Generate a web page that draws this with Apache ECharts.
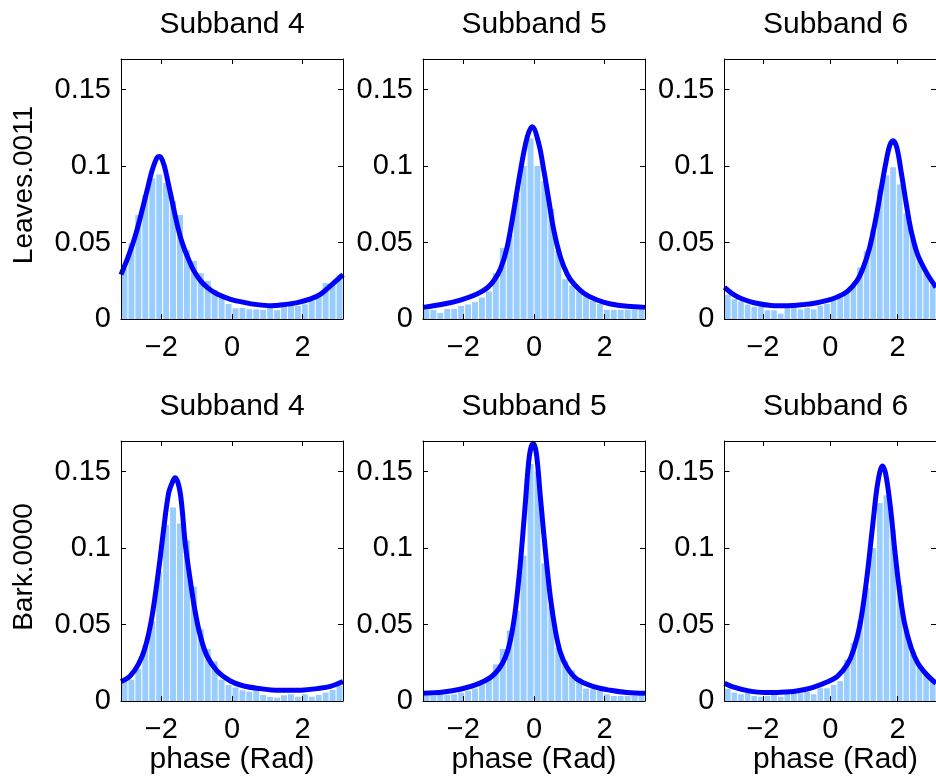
<!DOCTYPE html>
<html>
<head>
<meta charset="utf-8">
<script src="https://cdn.jsdelivr.net/npm/echarts@6/dist/echarts.min.js"></script>
<style>
  html, body { margin: 0; padding: 0; background: #ffffff; }
  #chart { width: 936px; height: 780px; }
</style>
</head>
<body>
<div id="chart"></div>
<script>
// Phase histograms (32 bins over [-pi, pi]) with fitted density curves.
const subbandTitles = ['Subband 4', 'Subband 5', 'Subband 6'];
const textureNames = ['Leaves.0011', 'Bark.0000'];
const xAxisName = 'phase (Rad)';
const xTickValues = [-2, 0, 2];
const yTickValues = [0, 0.05, 0.1, 0.15];
const yMax = 0.17;

// Histogram bin heights, left to right
const leaves4Bars = [0.033, 0.0495, 0.068, 0.081, 0.092, 0.0944, 0.089, 0.077, 0.068, 0.045, 0.038, 0.030,
  0.025, 0.019, 0.014, 0.0098, 0.0070, 0.0072, 0.0063, 0.0063, 0.0059, 0.0085, 0.0057, 0.0085,
  0.0085, 0.0085, 0.0096, 0.012, 0.015, 0.0235, 0.0235, 0.029];
const leaves5Bars = [0.006, 0.006, 0.004, 0.0065, 0.0065, 0.0085, 0.0095, 0.011, 0.014, 0.018, 0.030, 0.0465,
  0.055, 0.081, 0.100, 0.118, 0.100, 0.090, 0.072, 0.0447, 0.026, 0.022, 0.018, 0.015,
  0.012, 0.010, 0.006, 0.006, 0.006, 0.006, 0.006, 0.006];
const leaves6Bars = [0.016, 0.013, 0.0115, 0.0094, 0.008, 0.008, 0.0057, 0.0057, 0.0035, 0.0072, 0.0072, 0.0063,
  0.0072, 0.0063, 0.0087, 0.0098, 0.012, 0.0146, 0.0174, 0.0229, 0.0338, 0.0443, 0.0584, 0.0848,
  0.094, 0.0992, 0.088, 0.069, 0.052, 0.040, 0.030, 0.022];
const bark4Bars = [0.0135, 0.014, 0.021, 0.0365, 0.052, 0.0847, 0.115, 0.1265, 0.116, 0.105, 0.0748, 0.047,
  0.034, 0.026, 0.014, 0.0105, 0.0088, 0.007, 0.0061, 0.007, 0.0039, 0.0026, 0.0022, 0.0037,
  0.0044, 0.0028, 0.0044, 0.0028, 0.0039, 0.0055, 0.0072, 0.0098];
const bark5Bars = [0.0033, 0.0033, 0.004, 0.004, 0.0044, 0.0055, 0.0066, 0.0081, 0.011, 0.0158, 0.024, 0.034,
  0.046, 0.059, 0.095, 0.155, 0.150, 0.090, 0.062, 0.035, 0.026, 0.020, 0.015, 0.0081,
  0.0077, 0.0066, 0.0044, 0.0033, 0.0033, 0.0033, 0.0033, 0.0033];
const bark6Bars = [0.008, 0.0055, 0.0044, 0.0055, 0.0033, 0.0028, 0.0033, 0.005, 0.0028, 0.005, 0.005, 0.005,
  0.006, 0.0044, 0.0083, 0.0083, 0.0105, 0.013, 0.027, 0.038, 0.0525, 0.074, 0.100, 0.1295,
  0.1346, 0.1116, 0.076, 0.0464, 0.0324, 0.024, 0.018, 0.014];

// Fitted density curves as [phase, density] points
const leaves4Curve = [[-3.1416, 0.029], [-2.926, 0.0414], [-2.736, 0.0545], [-2.547, 0.0708], [-2.405, 0.0839],
  [-2.263, 0.0969], [-2.122, 0.1055], [-2.046, 0.1062], [-1.933, 0.1013], [-1.820, 0.0904], [-1.697, 0.0773],
  [-1.555, 0.0621], [-1.414, 0.0501], [-1.252, 0.0403], [-1.082, 0.0316], [-0.893, 0.0251], [-0.704, 0.0207],
  [-0.421, 0.0163], [-0.043, 0.0129], [0.336, 0.0109], [0.714, 0.0094], [1.092, 0.0087], [1.470, 0.0094],
  [1.848, 0.0107], [2.226, 0.0131], [2.509, 0.0163], [2.793, 0.0218], [3.1416, 0.029]];
const leaves5Curve = [[-3.1416, 0.0076], [-2.557, 0.0098], [-2.084, 0.0124], [-1.612, 0.0164], [-1.328, 0.0203],
  [-1.139, 0.025], [-0.950, 0.0327], [-0.761, 0.0469], [-0.572, 0.0709], [-0.383, 0.097], [-0.194, 0.1188],
  [-0.05, 0.1257], [0.137, 0.1145], [0.279, 0.097], [0.421, 0.0774], [0.562, 0.0578], [0.751, 0.0403],
  [0.940, 0.0294], [1.129, 0.0229], [1.413, 0.0168], [1.791, 0.0124], [2.169, 0.0098], [2.642, 0.0083],
  [3.1416, 0.0076]];
const leaves6Curve = [[-3.1416, 0.0207], [-2.892, 0.0163], [-2.609, 0.0131], [-2.231, 0.0105], [-1.758, 0.0089],
  [-1.285, 0.0087], [-0.813, 0.0094], [-0.435, 0.0105], [-0.057, 0.0124], [0.227, 0.0146], [0.510, 0.0181],
  [0.794, 0.0251], [0.983, 0.0338], [1.172, 0.0469], [1.361, 0.0665], [1.503, 0.0839], [1.645, 0.1014],
  [1.767, 0.1134], [1.862, 0.1166], [1.975, 0.1123], [2.117, 0.0948], [2.259, 0.0752], [2.401, 0.0578],
  [2.590, 0.0425], [2.854, 0.0305], [3.1416, 0.0207]];
const bark4Curve = [[-3.1416, 0.0127], [-2.883, 0.0164], [-2.647, 0.0241], [-2.457, 0.035], [-2.268, 0.0547],
  [-2.079, 0.0853], [-1.938, 0.1116], [-1.796, 0.1357], [-1.68, 0.1435], [-1.61, 0.146], [-1.465, 0.136],
  [-1.323, 0.1028], [-1.181, 0.0788], [-1.040, 0.058], [-0.898, 0.0427], [-0.709, 0.0295], [-0.425, 0.0197],
  [-0.047, 0.0131], [0.331, 0.0098], [0.803, 0.0081], [1.276, 0.007], [1.654, 0.007], [2.032, 0.0072],
  [2.410, 0.0081], [2.788, 0.0096], [3.1416, 0.0127]];
const bark5Curve = [[-3.1416, 0.005], [-2.561, 0.0059], [-2.089, 0.0077], [-1.616, 0.0109], [-1.238, 0.0153],
  [-1.002, 0.0208], [-0.813, 0.0284], [-0.671, 0.0394], [-0.529, 0.059], [-0.388, 0.0897], [-0.246, 0.129],
  [-0.132, 0.16], [-0.028, 0.1685], [0.066, 0.162], [0.180, 0.1335], [0.321, 0.0985], [0.463, 0.0678],
  [0.605, 0.046], [0.747, 0.0317], [0.936, 0.0219], [1.219, 0.0142], [1.692, 0.0094], [2.164, 0.007],
  [2.637, 0.0055], [3.1416, 0.005]];
const bark6Curve = [[-3.1416, 0.0116], [-2.892, 0.0092], [-2.420, 0.0066], [-1.947, 0.0055], [-1.474, 0.0057],
  [-1.002, 0.0066], [-0.529, 0.0088], [-0.057, 0.0127], [0.227, 0.0164], [0.510, 0.0241], [0.699, 0.0339],
  [0.888, 0.0503], [1.077, 0.0788], [1.267, 0.116], [1.408, 0.1422], [1.550, 0.1536], [1.645, 0.1488],
  [1.786, 0.1269], [1.928, 0.0963], [2.070, 0.07], [2.212, 0.0503], [2.401, 0.035], [2.590, 0.0252],
  [2.854, 0.0175], [3.1416, 0.0116]];

const panelBars = [[leaves4Bars, leaves5Bars, leaves6Bars], [bark4Bars, bark5Bars, bark6Bars]];
const panelCurves = [[leaves4Curve, leaves5Curve, leaves6Curve], [bark4Curve, bark5Curve, bark6Curve]];

// Layout (pixels)
const FONT = "'Liberation Sans', Arial, Helvetica, sans-serif";
const TICK_FONT_SIZE = 29;
const TITLE_FONT_SIZE = 30;
const ROW_FONT_SIZE = 28;
const colLeft = [121, 423, 724.5];
const rowTop = [59, 441];
const plotW = 222;
const plotH = 260;
const BAR_COLOR = '#99ccff';
const CURVE_COLOR = '#0000ff';

const PHASE_MIN = -Math.PI;
const PHASE_MAX = Math.PI;

function fmtPhase(v) {
  return v < 0 ? '\u2212' + Math.abs(v) : String(v);
}
function fmtDensity(v) {
  return String(+v.toFixed(2));
}

function renderBin(params, api) {
  const topLeft = api.coord([api.value(0), api.value(2)]);
  const bottomRight = api.coord([api.value(1), 0]);
  return {
    type: 'rect',
    shape: {
      x: topLeft[0] + 0.5,
      y: topLeft[1],
      width: Math.max(bottomRight[0] - topLeft[0] - 1, 0),
      height: bottomRight[1] - topLeft[1]
    },
    style: { fill: BAR_COLOR }
  };
}

function textStyle(text, size) {
  return {
    text: text, font: size + 'px ' + FONT, fill: '#000',
    align: 'center', verticalAlign: 'middle', textAlign: 'center', textVerticalAlign: 'middle'
  };
}

const grid = [], xAxis = [], yAxis = [], series = [], graphic = [];
const axisLineStyle = { color: '#000', width: 1 };

for (let r = 0; r < 2; r++) {
  for (let c = 0; c < 3; c++) {
    const g = grid.length;
    grid.push({ left: colLeft[c], top: rowTop[r], width: plotW, height: plotH, containLabel: false });

    ['bottom', 'top'].forEach(function (pos) {
      xAxis.push({
        type: 'value', gridIndex: g, min: PHASE_MIN, max: PHASE_MAX, position: pos, z: 10,
        axisLine: { show: true, onZero: false, lineStyle: axisLineStyle },
        axisTick: { show: true, inside: true, length: 5, customValues: xTickValues, lineStyle: axisLineStyle },
        axisLabel: {
          show: pos === 'bottom', customValues: xTickValues, formatter: fmtPhase, margin: 14,
          color: '#000', fontSize: TICK_FONT_SIZE, fontFamily: FONT
        },
        splitLine: { show: false }
      });
    });
    ['left', 'right'].forEach(function (pos) {
      yAxis.push({
        type: 'value', gridIndex: g, min: 0, max: yMax, position: pos, z: 10,
        axisLine: { show: true, onZero: false, lineStyle: axisLineStyle },
        axisTick: { show: true, inside: true, length: 5, customValues: yTickValues, lineStyle: axisLineStyle },
        axisLabel: {
          show: pos === 'left', customValues: yTickValues, formatter: fmtDensity, margin: 10,
          color: '#000', fontSize: TICK_FONT_SIZE, fontFamily: FONT
        },
        splitLine: { show: false }
      });
    });

    const bars = panelBars[r][c];
    const binW = (PHASE_MAX - PHASE_MIN) / bars.length;
    series.push({
      type: 'custom', xAxisIndex: 2 * g, yAxisIndex: 2 * g, z: 2,
      renderItem: renderBin,
      encode: { x: [0, 1], y: 2 },
      data: bars.map(function (h, k) { return [PHASE_MIN + k * binW, PHASE_MIN + (k + 1) * binW, h]; })
    });
    series.push({
      type: 'line', xAxisIndex: 2 * g, yAxisIndex: 2 * g, z: 3,
      data: panelCurves[r][c], smooth: 0.35, showSymbol: false, clip: true,
      lineStyle: { color: CURVE_COLOR, width: 5 }
    });

    // Panel title
    graphic.push({
      type: 'text', x: colLeft[c] + plotW / 2, y: rowTop[r] - 34,
      style: textStyle(subbandTitles[c], TITLE_FONT_SIZE)
    });
    if (r === 1) {
      graphic.push({
        type: 'text', x: colLeft[c] + plotW / 2, y: rowTop[r] + plotH + 59,
        style: textStyle(xAxisName, TITLE_FONT_SIZE)
      });
    }
  }
  // Row label
  graphic.push({
    type: 'text', x: 24, y: rowTop[r] + plotH / 2 - 4, rotation: Math.PI / 2,
    style: textStyle(textureNames[r], ROW_FONT_SIZE)
  });
}

const chart = echarts.init(document.getElementById('chart'), null, { renderer: 'canvas' });
chart.setOption({
  animation: false,
  backgroundColor: '#ffffff',
  grid: grid,
  xAxis: xAxis,
  yAxis: yAxis,
  series: series,
  graphic: graphic
});
</script>
</body>
</html>
